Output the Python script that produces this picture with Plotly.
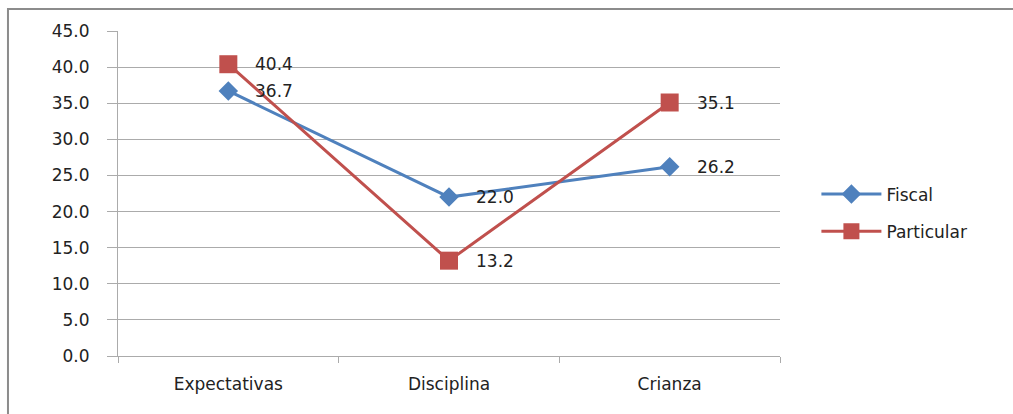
import plotly.graph_objects as go

# Source values
categories = ["Expectativas", "Disciplina", "Crianza"]
fiscal = [36.7, 22.0, 26.2]
particular = [40.4, 13.2, 35.1]
y_ticks = [0, 5, 10, 15, 20, 25, 30, 35, 40, 45]

BLUE = "#4F81BD"
RED = "#C0504D"
GRID = "#ababab"
FONT = dict(family="DejaVu Sans", size=17, color="#222222")

fig = go.Figure()
fig.add_trace(go.Scatter(
    x=categories, y=fiscal, name="Fiscal", mode="lines+markers",
    legendgroup="f",
    line=dict(color=BLUE, width=3),
    marker=dict(symbol="diamond", size=15, color=BLUE),
))
fig.add_trace(go.Scatter(
    x=categories, y=particular, name="Particular", mode="lines+markers",
    legendgroup="p",
    line=dict(color=RED, width=3),
    marker=dict(symbol="square", size=18, color=RED),
))

# Value labels placed to the right of each point
annotations = []
for series in (fiscal, particular):
    for cat, val in zip(categories, series):
        annotations.append(dict(
            x=cat, y=val, xref="x", yref="y", text=f"{val:.1f}",
            showarrow=False, xanchor="left", yanchor="middle",
            xshift=25, font=FONT,
        ))

fig.update_layout(
    width=1013, height=414,
    margin=dict(l=118, r=233, t=31, b=58),
    paper_bgcolor="white", plot_bgcolor="white",
    font=FONT,
    showlegend=True,
    legend=dict(x=1.055, y=0.44, xanchor="left", yanchor="middle",
                font=FONT, bgcolor="rgba(0,0,0,0)", tracegroupgap=12,
                traceorder="grouped", itemwidth=60),
    annotations=annotations,
    shapes=[dict(
        type="rect", xref="paper", yref="paper",
        x0=-0.1662, y0=1.068, x1=2.0, y1=-0.3,
        line=dict(color="#8c8c8c", width=2), layer="below",
    )],
)
fig.update_xaxes(
    type="category", range=[-0.5, 2.5],
    showline=True, linecolor=GRID, linewidth=1,
    ticks="outside", tickson="boundaries", ticklen=6, tickcolor=GRID,
    showgrid=False, tickfont=FONT, ticklabelstandoff=13,
)
fig.update_yaxes(
    range=[0, 45], tickvals=y_ticks,
    ticktext=[f"{v:.1f}" for v in y_ticks],
    showline=True, linecolor=GRID, linewidth=1,
    ticks="outside", ticklen=10, tickcolor=GRID,
    showgrid=True, gridcolor=GRID, gridwidth=1,
    zeroline=False, tickfont=FONT, ticklabelstandoff=14,
)

fig.write_html("out.html")
